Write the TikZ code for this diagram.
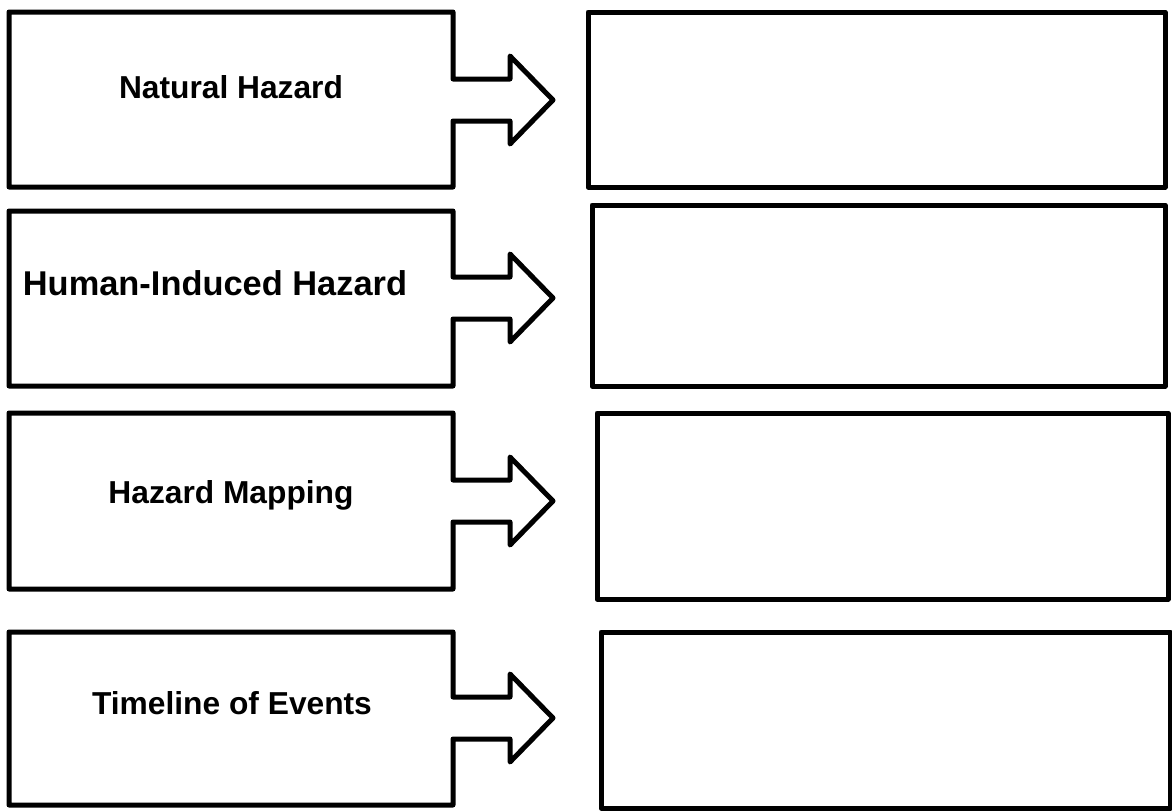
\documentclass[tikz,border=0pt]{standalone}
\usepackage{fontspec}
\setmainfont{Liberation Sans}
\begin{document}
\begin{tikzpicture}[x=0.75pt,y=-0.75pt,line width=3.75pt,line join=round]
        \useasboundingbox (0,0) rectangle (1172,811);
        \tikzset{label text/.style={font=\bfseries\fontsize{#1}{28}\selectfont,inner sep=0pt}}

        % left boxes with their arrows
        \foreach \yt/\yb/\yc/\tx/\ty/\fs/\name [count=\i] in {12/187/100/231/87/23.8/Natural Hazard,211/386/298/215/283/25.8/Human-Induced Hazard,413/589/501/231/495/23.8/Hazard Mapping,632/805/718/232/703/23.8/Timeline of Events}
        {
            \draw (9,\yt) -- (453,\yt) -- (453,\yc-21) -- (510,\yc-21) -- (510,\yc-44) -- (553,\yc)
                -- (510,\yc+44) -- (510,\yc+21) -- (453,\yc+21) -- (453,\yb) -- (9,\yb) -- cycle;
            \node[label text=\fs] (label\i) at (\tx,\ty) {\name};
        }

        % empty boxes on the right
        \foreach \bl/\bt/\br/\bb [count=\i] in {588/12/1165/187,592/205/1165/386,597/413/1168/599,601/632/1170/808}
            \draw (\bl,\bt) rectangle (\br,\bb);
    \end{tikzpicture}
\end{document}
